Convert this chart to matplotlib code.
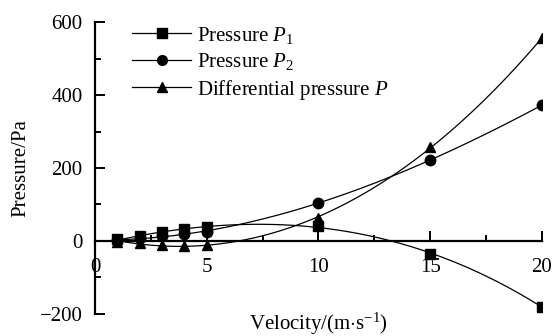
import numpy as np
import matplotlib.pyplot as plt
import matplotlib.transforms as mtransforms
from matplotlib.ticker import MultipleLocator

plt.rcParams['font.family'] = 'Liberation Serif'
plt.rcParams['mathtext.fontset'] = 'custom'
plt.rcParams['mathtext.rm'] = 'Liberation Serif'
plt.rcParams['mathtext.it'] = 'Liberation Serif:italic'
plt.rcParams['font.size'] = 15

# Measured data
velocity = [1, 2, 3, 4, 5, 10, 15, 20]
p1 = [5, 13, 24, 32, 38, 42, -36, -180]
p2 = [2, 7, 13, 19, 26, 104, 222, 372]
p_diff = [-3, -6, -11, -13, -12, 62, 258, 555]

series = [
    (p1, 's', r'Pressure $P_1$'),
    (p2, 'o', r'Pressure $P_2$'),
    (p_diff, '^', r'Differential pressure $P$'),
]

fig = plt.figure(figsize=(5.54, 3.36), dpi=100)
ax = fig.add_axes([0.1715, 0.0655, 0.8065, 0.869])

# smooth trend line through each series plus the measured points
xs = np.linspace(min(velocity), max(velocity), 200)
for vals, marker, label in series:
    coef = np.polyfit(velocity, vals, 3)
    ax.plot(xs, np.polyval(coef, xs), color='black', linewidth=0.9)
    ax.plot(velocity, vals, linestyle='none', marker=marker, color='black',
            markersize=7.5)
    ax.plot([], [], color='black', linewidth=0.9, marker=marker,
            markersize=7, label=label)

ax.set_xlim(0, 20)
ax.set_ylim(-200, 600)

# x axis drawn through zero, y axis on the left
ax.spines['bottom'].set_position(('data', 0))
ax.spines['top'].set_visible(False)
ax.spines['right'].set_visible(False)
for s in ['bottom', 'left']:
    ax.spines[s].set_linewidth(1.6)

ax.xaxis.set_major_locator(MultipleLocator(5))
ax.xaxis.set_minor_locator(MultipleLocator(2.5))
ax.yaxis.set_major_locator(MultipleLocator(200))
ax.yaxis.set_minor_locator(MultipleLocator(100))
ax.tick_params(which='both', direction='in', width=1.4)
ax.tick_params(which='major', length=7)
ax.tick_params(which='minor', length=4)
ax.tick_params(axis='x', pad=12)
ax.tick_params(axis='y', pad=9)

# nudge the "0" label off the y axis
fig.canvas.draw()
zero_lbl = ax.get_xticklabels()[0]
zero_lbl.set_transform(zero_lbl.get_transform() +
                       mtransforms.ScaledTranslation(8 / 100, 0, fig.dpi_scale_trans))

ax.set_ylabel('Pressure/Pa')
ax.yaxis.set_label_coords(-0.145, 0.5)
ax.set_xlabel(r'Velocity/(m$\cdot$s$^{-1}$)', va='center')
ax.xaxis.set_label_coords(0.5, -0.035)

ax.legend(loc='upper left', bbox_to_anchor=(0.065, 1.02), frameon=False,
          handlelength=2.8, handletextpad=0.3, labelspacing=0.27,
          borderaxespad=0, numpoints=1)

fig.savefig('out.png', dpi=100)
